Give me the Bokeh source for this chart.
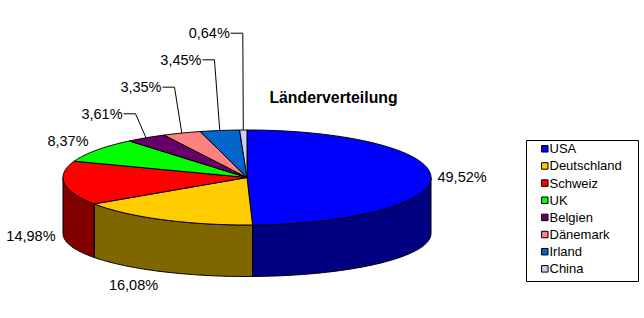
import numpy as np
from bokeh.plotting import figure
from bokeh.models import Range1d
from bokeh.core.properties import value
from bokeh.embed import file_html
from bokeh.resources import INLINE

# ---------------- data ----------------
countries = ["USA", "Deutschland", "Schweiz", "UK", "Belgien", "Dänemark", "Irland", "China"]
shares = [49.52, 16.08, 14.98, 8.37, 3.61, 3.35, 3.45, 0.64]
title_text = "Länderverteilung"

# ---------------- styles ----------------
top_colors = ["#0000FF", "#FFCC00", "#FF0000", "#00FF00", "#660066", "#FF8080", "#0066CC", "#CCCCFF"]
side_colors = ["#000080", "#806600", "#800000", "#008000", "#330033", "#804040", "#003366", "#666680"]
FONT = "Liberation Sans"

# ---------------- layout (pixel space) ----------------
W, H = 644, 318
CX, CY, A, B = 246.5, 177.0, 184.0, 47.5      # top ellipse
CY2, B2 = 233.0, 43.0                          # bottom ellipse
# label placement relative to slice anchor: (dx, dy, align) or leader elbow offsets
label_layout = [
    ("plain", 6.5, 0.7, "left"),
    ("plain", -29.3, 64.8, "center"),
    ("plain", -8.8, 53.3, "right"),
    ("plain", -8.0, -8.7, "right"),
    ("leader", -10.5, -24.0, "right"),
    ("leader", -7.3, -45.9, "right"),
    ("leader", -5.3, -70.7, "right"),
    ("leader", -0.5, -96.8, "right"),
]
LEADER_H = 12.0
LEG_BOX = (526, 140, 638, 281)
LEG_X_MARK, LEG_X_TEXT, LEG_Y0, LEG_DY, LEG_MS = 544.3, 549.0, 148.3, 17.15, 6.5

p = figure(width=W, height=H, x_range=Range1d(0, W), y_range=Range1d(H, 0),
           output_backend="svg", toolbar_location=None,
           min_border=0, min_border_left=0, min_border_right=0,
           min_border_top=0, min_border_bottom=0)
p.axis.visible = False
p.grid.visible = False
p.outline_line_color = None
p.background_fill_color = "white"
p.border_fill_color = "white"


def ell(theta_deg, cy, b):
    t = np.radians(theta_deg)
    return CX + A * np.sin(t), cy - b * np.cos(t)


total = sum(shares)
bounds = np.concatenate([[0], np.cumsum(shares)]) / total * 360.0

# side walls
sx, sy, sc = [], [], []
for i in range(len(shares)):
    lo, hi = max(bounds[i], 90.0), min(bounds[i + 1], 270.0)
    if hi <= lo:
        continue
    th = np.linspace(lo, hi, max(3, int(hi - lo) + 2))
    xt, yt = ell(th, CY, B)
    xb, yb = ell(th[::-1], CY2, B2)
    sx.append(list(xt) + list(xb))
    sy.append(list(yt) + list(yb))
    sc.append(side_colors[i])
p.patches(sx, sy, fill_color=sc, line_color="black", line_width=1)

# top faces
tx, ty = [], []
for i in range(len(shares)):
    th = np.linspace(bounds[i], bounds[i + 1], max(3, int(bounds[i + 1] - bounds[i]) + 2))
    xa, ya = ell(th, CY, B)
    tx.append([CX] + list(xa))
    ty.append([CY] + list(ya))
p.patches(tx, ty, fill_color=top_colors, line_color="black", line_width=1)

# labels
label_txt = [f"{v:.2f}".replace(".", ",") + "%" for v in shares]
for i in range(len(shares)):
    mid = (bounds[i] + bounds[i + 1]) / 2
    ax, ay = ell(mid, CY, B)
    kind, dx, dy, align = label_layout[i]
    if kind == "plain":
        lx, ly = ax + dx, ay + dy
    else:
        ex, ey = ax + dx, ay + dy
        p.line([ax, ex, ex - LEADER_H], [ay, ey, ey], line_color="black", line_width=1)
        lx, ly = ex - LEADER_H - 1, ey
    p.text(x=[lx], y=[ly], text=[label_txt[i]], text_font=value(FONT),
           text_font_size="14.5px", text_align=align, text_baseline="middle",
           text_color="black")

# title
p.text(x=[333], y=[97], text=[title_text], text_font=value(FONT), text_font_size="15.8px",
       text_font_style="bold", text_align="center", text_baseline="middle", text_color="black")

# legend
x0, y0, x1, y1 = LEG_BOX
p.quad(left=[x0], right=[x1], top=[y0], bottom=[y1], fill_color="white", line_color="black", line_width=1)
ly = [LEG_Y0 + k * LEG_DY for k in range(len(countries))]
p.rect(x=[LEG_X_MARK] * len(countries), y=ly, width=LEG_MS, height=LEG_MS,
       fill_color=top_colors, line_color="black", line_width=1)
p.text(x=[LEG_X_TEXT] * len(countries), y=ly, text=countries, text_font=value(FONT),
       text_font_size="13px", text_align="left", text_baseline="middle", text_color="black")

open("out.html", "w").write(file_html(p, INLINE))
